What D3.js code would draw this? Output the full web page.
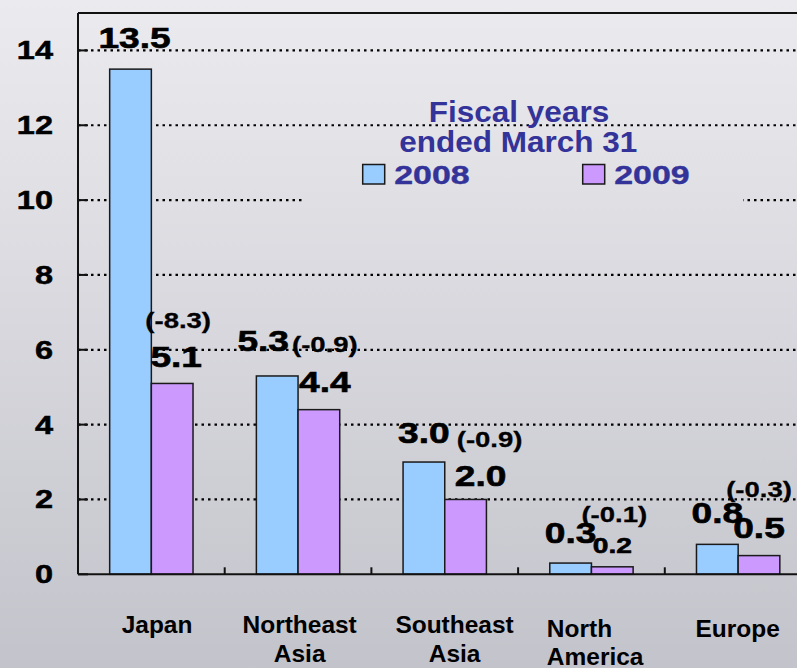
<!DOCTYPE html>
<html>
<head>
<meta charset="utf-8">
<script src="https://cdn.jsdelivr.net/npm/d3@7/dist/d3.min.js"></script>
<style>
  html, body { margin: 0; padding: 0; background: #d8d8de; }
  svg { display: block; }
  text { font-family: "Liberation Sans", Arial, Helvetica, sans-serif; font-weight: bold; }
</style>
</head>
<body>
<svg id="chart" width="797" height="668"></svg>
<script>
// Sales by region (billions), fiscal years ended March 31
const categories = ["Japan", "Northeast Asia", "Southeast Asia", "North America", "Europe"];
const series = ["2008", "2009"];
const values2008 = [13.5, 5.3, 3.0, 0.3, 0.8];
const values2009 = [5.1, 4.4, 2.0, 0.2, 0.5];
const changeLabels = ["(-8.3)", "(-0.9)", "(-0.9)", "(-0.1)", "(-0.3)"];
const yTicks = [0, 2, 4, 6, 8, 10, 12, 14];
const legendTitle = ["Fiscal years", "ended March 31"];

const colors = { "2008": "#99ccff", "2009": "#cc99ff" };
const legendInk = "#333399";

const W = 797, H = 668;
const svg = d3.select("#chart");

// background gradient shared by page and legend panel
const defs = svg.append("defs");
const grad = defs.append("linearGradient")
  .attr("id", "bg").attr("gradientUnits", "userSpaceOnUse")
  .attr("x1", 0).attr("y1", 0).attr("x2", 0).attr("y2", H);
grad.append("stop").attr("offset", "0%").attr("stop-color", "#ebebef");
grad.append("stop").attr("offset", "100%").attr("stop-color", "#c3c3cb");
svg.append("rect").attr("width", W).attr("height", H).attr("fill", "url(#bg)");

// plot frame
const plotLeft = 78, plotTop = 13, plotBottom = 574.3;
const bandStep = 146.7;
const plotRight = plotLeft + bandStep * categories.length;

const x0 = d3.scaleBand().domain(categories).range([plotLeft, plotRight]).padding(0);
const x1 = d3.scaleBand().domain(series).range([0, x0.bandwidth()])
  .paddingInner(0).paddingOuter(0.76);
const y = d3.scaleLinear().domain([0, 15]).range([plotBottom, plotTop]);

// dotted gridlines
svg.append("g").selectAll("line")
  .data(yTicks.filter(d => d > 0))
  .join("line")
  .attr("x1", plotLeft).attr("x2", plotRight)
  .attr("y1", d => y(d)).attr("y2", d => y(d))
  .attr("stroke", "#000").attr("stroke-width", 2.2)
  .attr("stroke-dasharray", "2.5,4");

// legend panel (covers gridlines behind it)
svg.append("rect")
  .attr("x", 303).attr("y", 129).attr("width", 440).attr("height", 76)
  .attr("fill", "url(#bg)");

// text helper: horizontally widened bold text, optional outline for extra weight
function addText(parent, str, x, yy, size, anchor, sx, fill, weight) {
  const t = parent.append("text")
    .attr("transform", `translate(${x},${yy}) scale(${sx},1)`)
    .attr("text-anchor", anchor)
    .attr("font-size", size)
    .attr("fill", fill || "#000")
    .text(str);
  if (weight) t.attr("stroke", fill || "#000").attr("stroke-width", weight);
  return t;
}

// bars
const rows = categories.map((c, i) => ({ cat: c, i, v: { "2008": values2008[i], "2009": values2009[i] } }));
const groups = svg.append("g").selectAll("g")
  .data(rows).join("g")
  .attr("transform", d => `translate(${x0(d.cat)},0)`);
groups.selectAll("rect")
  .data(d => series.map(s => ({ s, v: d.v[s] })))
  .join("rect")
  .attr("x", d => x1(d.s))
  .attr("width", x1.bandwidth())
  .attr("y", d => y(d.v))
  .attr("height", d => y(0) - y(d.v))
  .attr("fill", d => colors[d.s])
  .attr("stroke", "#1a1a1a").attr("stroke-width", 1.5);

// axes
const axisG = svg.append("g").attr("stroke", "#111").attr("stroke-width", 2);
axisG.append("line").attr("x1", plotLeft).attr("x2", plotRight).attr("y1", plotTop).attr("y2", plotTop);
axisG.append("line").attr("x1", plotLeft).attr("x2", plotLeft).attr("y1", plotTop).attr("y2", plotBottom);
axisG.append("line").attr("x1", plotLeft).attr("x2", plotRight).attr("y1", plotBottom).attr("y2", plotBottom);
// inner y ticks
axisG.selectAll(".yt").data(yTicks).join("line").attr("class", "yt")
  .attr("x1", plotLeft).attr("x2", plotLeft + 10)
  .attr("y1", d => y(d)).attr("y2", d => y(d));
// x ticks at category boundaries
axisG.selectAll(".xt").data(categories.slice(1)).join("line").attr("class", "xt")
  .attr("x1", d => x0(d)).attr("x2", d => x0(d))
  .attr("y1", plotBottom).attr("y2", plotBottom - 7);

// y tick labels
const yLab = svg.append("g");
yTicks.forEach(t => addText(yLab, String(t), 53, y(t) + 9, 26, "end", 1.25, "#000", 0.5));

// category labels
const catNudge = [
  { dx: 5.7, base: 633.3, anchor: "middle" },
  { dx: 1.6, base: 633.3, anchor: "middle" },
  { dx: 9.8, base: 633.3, anchor: "middle" },
  { dx: -44.6, base: 636.7, anchor: "start" },
  { dx: -0.5, base: 636.7, anchor: "middle" }
];
const catG = svg.append("g");
categories.forEach((c, i) => {
  const n = catNudge[i];
  const cx = x0(c) + x0.bandwidth() / 2 + n.dx;
  c.split(" ").forEach((line, k) => addText(catG, line, cx, n.base + k * 28.4, 24, n.anchor, 1.02));
});

// value labels
const lab08 = [
  { dx: 4, dy: -1 }, { dx: -14, dy: -5.4 }, { dx: 0, dy: 1 }, { dx: 0, dy: 0 }, { dx: 0, dy: -1 }
];
const lab09 = [
  { dx: 4, dy: -16.3, size: 29 }, { dx: 6, dy: -18, size: 29 }, { dx: 15, dy: -13.5, size: 29 },
  { dx: 0, dy: -14, size: 22 }, { dx: 0, dy: -17.3, size: 29 }
];
const labChg = [
  { dx: 2, dy: -39.6 }, { dx: 0, dy: -40 }, { dx: 9, dy: -39.3 }, { dx: 2, dy: -31 }, { dx: 0, dy: -41.6 }
];
const valG = svg.append("g");
rows.forEach((r, i) => {
  const cx08 = x0(r.cat) + x1("2008") + x1.bandwidth() / 2;
  const cx09 = x0(r.cat) + x1("2009") + x1.bandwidth() / 2;
  addText(valG, values2008[i].toFixed(1), cx08 + lab08[i].dx, y(values2008[i]) - 20 + lab08[i].dy, 29, "middle", 1.28, "#000", 0.6);
  const x9 = cx09 + lab09[i].dx, b9 = y(values2009[i]) + lab09[i].dy;
  addText(valG, values2009[i].toFixed(1), x9, b9, lab09[i].size, "middle", 1.28, "#000", 0.6);
  addText(valG, changeLabels[i], x9 + labChg[i].dx, b9 + labChg[i].dy, 22, "middle", 1.25, "#000", 0.3);
});

// legend
const lg = svg.append("g");
addText(lg, legendTitle[0], 519, 121.7, 30, "middle", 1.05, legendInk);
addText(lg, legendTitle[1], 518.3, 151.5, 30, "middle", 1.05, legendInk);
const legendX = [362.7, 582.7];
series.forEach((s, i) => {
  lg.append("rect")
    .attr("x", legendX[i]).attr("y", 164.5).attr("width", 22).attr("height", 19.5)
    .attr("fill", colors[s]).attr("stroke", "#1a1a1a").attr("stroke-width", 1.5);
  addText(lg, s, legendX[i] + 31.5, 184, 26.5, "start", 1.28, legendInk, 0.4);
});
</script>
</body>
</html>
